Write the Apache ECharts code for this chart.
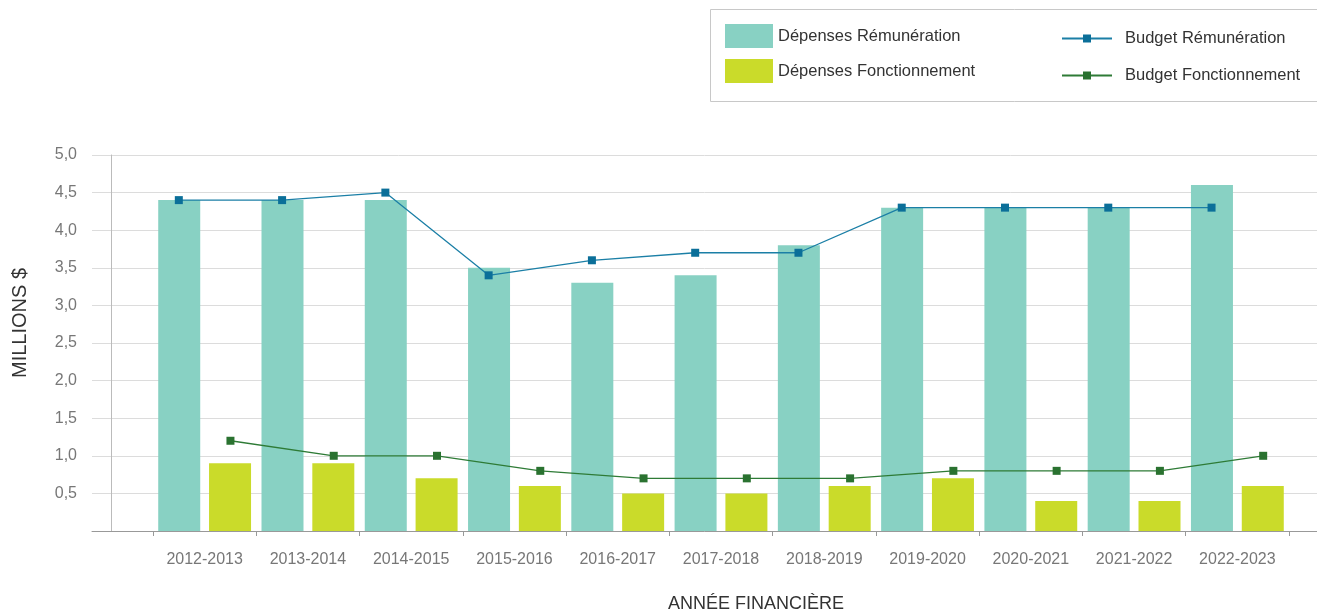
<!DOCTYPE html>
<html>
<head>
<meta charset="utf-8">
<script src="https://cdn.jsdelivr.net/npm/echarts@6/dist/echarts.min.js"></script>
<style>
html,body{margin:0;padding:0;background:#fff;}
#c{width:1317px;height:615px;}
</style>
</head>
<body>
<div id="c"></div>
<script>
const categories = ['2012-2013','2013-2014','2014-2015','2015-2016','2016-2017','2017-2018','2018-2019','2019-2020','2020-2021','2021-2022','2022-2023'];
const depensesRemuneration = [4.4, 4.4, 4.4, 3.5, 3.3, 3.4, 3.8, 4.3, 4.3, 4.3, 4.6];
const depensesFonctionnement = [0.9, 0.9, 0.7, 0.6, 0.5, 0.5, 0.6, 0.7, 0.4, 0.4, 0.6];
const budgetRemuneration = [4.4, 4.4, 4.5, 3.4, 3.6, 3.7, 3.7, 4.3, 4.3, 4.3, 4.3];
const budgetFonctionnement = [1.2, 1.0, 1.0, 0.8, 0.7, 0.7, 0.7, 0.8, 0.8, 0.8, 1.0];
const yMin = 0, yMax = 5, yStep = 0.5;

const FONT = 'Liberation Sans';
const C_TEAL = '#88D1C3', C_YEL = '#CADB2A', C_BLUE = '#1B7FA6', C_BLUE_M = '#0B6F99', C_GREEN = '#2E7B36', C_GREEN_M = '#2A7230';

// sub-slot axis: two half-slots per category (bar positions)
const subCats = [];
categories.forEach(c => { subCats.push(c + '|a'); subCats.push(c + '|b'); });
const blueLine = [], greenLine = [];
categories.forEach((c, i) => {
  blueLine.push(budgetRemuneration[i], null);
  greenLine.push(null, budgetFonctionnement[i]);
});

const chart = echarts.init(document.getElementById('c'), null, {renderer: 'canvas'});
const legendBase = {
  orient: 'vertical', padding: 0, selectedMode: false,
  textStyle: {fontFamily: FONT, fontSize: 16.5, color: '#333'}
};
chart.setOption({
  animation: false,
  backgroundColor: '#fff',
  textStyle: {fontFamily: FONT},
  title: {
    text: 'ANNÉE FINANCIÈRE', left: 756, top: 595, textAlign: 'center',
    padding: 0,
    textStyle: {fontFamily: FONT, fontSize: 18, fontWeight: 'normal', color: '#333'}
  },
  graphic: [{
    type: 'rect', left: 708, top: 7, silent: true,
    shape: {width: 640, height: 92},
    style: {fill: 'none', stroke: '#c8c8c8', lineWidth: 1}
  }],
  legend: [
    Object.assign({}, legendBase, {data: [{name: 'Dépenses Rémunération', icon: 'rect'}], left: 725, top: 24, itemWidth: 48, itemHeight: 24}),
    Object.assign({}, legendBase, {data: [{name: 'Dépenses Fonctionnement', icon: 'rect'}], left: 725, top: 59, itemWidth: 48, itemHeight: 24}),
    Object.assign({}, legendBase, {data: ['Budget Rémunération'], left: 1061, top: 30, itemWidth: 50, itemHeight: 10,
      textStyle: {fontFamily: FONT, fontSize: 16.5, color: '#333', padding: [0,0,0,8]}}),
    Object.assign({}, legendBase, {data: ['Budget Fonctionnement'], left: 1061, top: 67, itemWidth: 50, itemHeight: 10,
      textStyle: {fontFamily: FONT, fontSize: 16.5, color: '#333', padding: [0,0,0,8]}})
  ],
  grid: [
    {left: 153, right: 28, top: 155, bottom: 84, containLabel: false},
    {left: 92, right: 0, top: 155, bottom: 84, containLabel: false}
  ],
  xAxis: [
    {
      type: 'category', gridIndex: 0, data: categories, boundaryGap: true,
      axisLine: {show: false},
      axisTick: {show: true, length: 5, lineStyle: {color: '#999'}},
      axisLabel: {margin: 21, color: '#777', fontSize: 16, fontFamily: FONT},
      splitLine: {show: false}
    },
    {
      type: 'category', gridIndex: 0, data: subCats, boundaryGap: true, show: false
    },
    {
      type: 'value', gridIndex: 1, min: 0, max: 1,
      axisLine: {show: true, onZero: false, lineStyle: {color: '#999', width: 1}},
      axisTick: {show: false}, axisLabel: {show: false}, splitLine: {show: false}
    }
  ],
  yAxis: [
    {type: 'value', gridIndex: 0, min: yMin, max: yMax, interval: yStep, show: false},
    {
      type: 'value', gridIndex: 1, position: 'left', min: yMin, max: yMax, interval: yStep,
      axisLine: {show: false}, axisTick: {show: false},
      axisLabel: {
        margin: 15, color: '#777', fontSize: 16, fontFamily: FONT,
        formatter: v => v === 0 ? '' : v.toFixed(1).replace('.', ',')
      },
      splitLine: {show: true, lineStyle: {color: '#dcdcdc', width: 1}},
      name: 'MILLIONS $', nameLocation: 'middle', nameRotate: 90, nameGap: 62,
      nameTextStyle: {fontFamily: FONT, fontSize: 20, color: '#333', padding: [0, 0, 0, 40]}
    },
    {
      type: 'value', gridIndex: 1, position: 'left', min: yMin, max: yMax, interval: yStep, offset: -19,
      axisLine: {show: true, lineStyle: {color: '#bbb', width: 1}},
      axisTick: {show: false}, axisLabel: {show: false}, splitLine: {show: false}
    }
  ],
  series: [
    {
      name: 'Dépenses Rémunération', type: 'bar', xAxisIndex: 0, yAxisIndex: 0,
      data: depensesRemuneration, barWidth: 42, barGap: '21%',
      itemStyle: {color: C_TEAL}, z: 2
    },
    {
      name: 'Dépenses Fonctionnement', type: 'bar', xAxisIndex: 0, yAxisIndex: 0,
      data: depensesFonctionnement, barWidth: 42, barGap: '21%',
      itemStyle: {color: C_YEL}, z: 2
    },
    {
      name: 'Budget Rémunération', type: 'line', xAxisIndex: 1, yAxisIndex: 0,
      data: blueLine, connectNulls: true,
      symbol: 'rect', symbolSize: 8, showAllSymbol: true,
      lineStyle: {color: C_BLUE, width: 1.3},
      itemStyle: {color: C_BLUE_M},
      z: 5
    },
    {
      name: 'Budget Fonctionnement', type: 'line', xAxisIndex: 1, yAxisIndex: 0,
      data: greenLine, connectNulls: true,
      symbol: 'rect', symbolSize: 8, showAllSymbol: true,
      lineStyle: {color: C_GREEN, width: 1.3},
      itemStyle: {color: C_GREEN_M},
      z: 5
    }
  ]
});
</script>
</body>
</html>
